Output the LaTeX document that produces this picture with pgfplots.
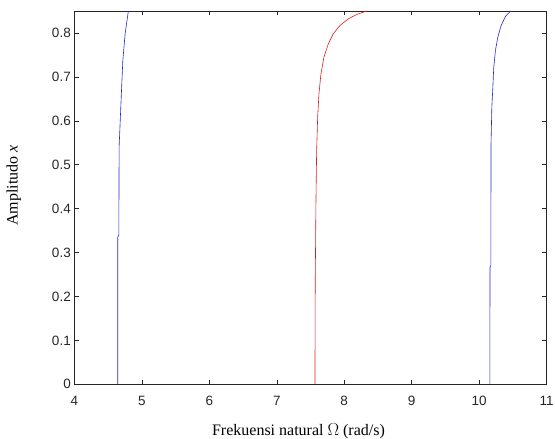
\documentclass[border=0pt]{standalone}
\usepackage{fontspec}
\setmainfont{Liberation Serif}
\newfontfamily\ticksans{Liberation Sans}
\usepackage{pgfplots}
\pgfplotsset{compat=1.18}
\definecolor{axgray}{RGB}{38,38,38}
\definecolor{mblue}{RGB}{40,40,200}
\definecolor{mred}{RGB}{220,30,30}

\begin{document}
\begin{tikzpicture}
\begin{axis}[
  name=ax,
  scale only axis,
  width=472.4pt, height=373.3pt,
  xmin=4, xmax=11, ymin=0, ymax=0.85,
  xtick={4,5,...,11},
  ytick={0,0.1,...,0.8},
  axis line style={axgray, line width=0.5pt},
  major tick style={axgray, line width=0.5pt},
  major tick length=4.5pt,
  tick align=inside,
  ticklabel style={font=\ticksans\fontsize{13.5}{15}\selectfont, text=axgray},
  xticklabel style={yshift=-8pt},
  /pgf/number format/assume math mode=true,
  yticklabel style={/pgf/number format/fixed, /pgf/number format/precision=1},
  xlabel={Frekuensi natural $\Omega$ (rad/s)},
  ylabel={Amplitudo \textit{x}},
  label style={font=\fontsize{16}{18}\selectfont, text=black},
  xlabel style={yshift=-11pt, xshift=-12pt},
  ylabel style={yshift=24pt, xshift=12pt},
]
% first backbone (blue)
\addplot[mblue, line width=0.6pt] coordinates {
  (4.644,0) (4.644,0.335) (4.660,0.34) (4.664,0.54) (4.689,0.631)
  (4.704,0.685) (4.719,0.737) (4.753,0.798) (4.801,0.85)
};
% second backbone (red)
\addplot[mred, line width=0.6pt] coordinates {
  (7.566,0) (7.570,0.229) (7.581,0.419) (7.591,0.532) (7.606,0.608)
  (7.625,0.661) (7.655,0.707) (7.699,0.745) (7.763,0.775)
  (7.837,0.798) (7.936,0.817) (8.059,0.832) (8.184,0.842) (8.332,0.85)
};
% third backbone (blue)
\addplot[mblue, line width=0.6pt] coordinates {
  (10.157,0) (10.160,0.267) (10.172,0.27) (10.175,0.548) (10.187,0.631)
  (10.200,0.67) (10.215,0.72) (10.240,0.76) (10.275,0.79) (10.320,0.815)
  (10.390,0.838) (10.468,0.85)
};
\end{axis}
\pgfresetboundingbox
\path ([shift={(-74.3pt,-54.7pt)}]ax.south west) rectangle ([shift={(8.3pt,11pt)}]ax.north east);
\end{tikzpicture}
\end{document}
